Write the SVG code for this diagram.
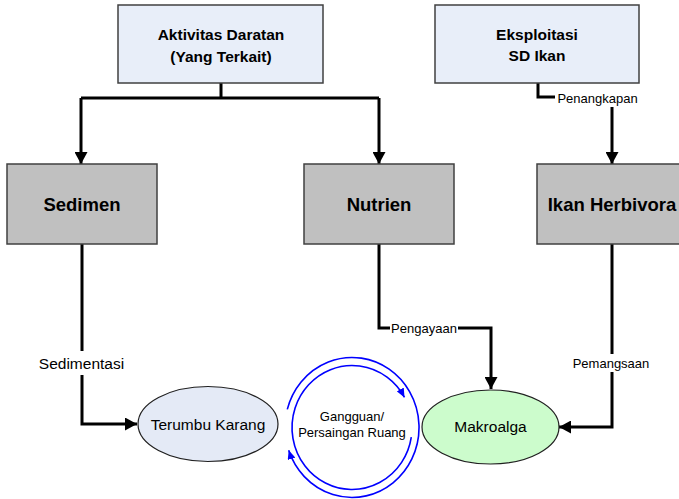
<svg xmlns="http://www.w3.org/2000/svg" width="679" height="499" viewBox="0 0 679 499">
<defs>
<style>
.top{fill:#e8eef9;stroke:#404040;stroke-width:1.5}
.mid{fill:#c0c0c0;stroke:#404040;stroke-width:1.5}
.t{font-family:"Liberation Sans",Arial,sans-serif;fill:#000;text-anchor:middle}
.b{font-weight:bold}
.con{fill:none;stroke:#000;stroke-width:3}
.lbl{fill:#fff;stroke:none}
.cyc{fill:none;stroke:#0000ff;stroke-width:1.6}
</style>
<marker id="ah" markerUnits="userSpaceOnUse" markerWidth="12" markerHeight="13" refX="12" refY="6.5" orient="auto">
<path d="M0,0 L12,6.5 L0,13 z" fill="#000"/>
</marker>
<marker id="bh" markerUnits="userSpaceOnUse" markerWidth="9" markerHeight="8" refX="9" refY="4" orient="auto">
<path d="M0,0 L9,4 L0,8 z" fill="#0000ff"/>
</marker>
</defs>

<g id="connectors">
<path class="con" d="M221,83 V98 M81,98 H379"/>
<path class="con" d="M81,98 V164" marker-end="url(#ah)"/>
<path class="con" d="M379,98 V164" marker-end="url(#ah)"/>
<path class="con" d="M538,83 V97 H612 V164" marker-end="url(#ah)"/>
<path class="con" d="M82,244 V424 H137" marker-end="url(#ah)"/>
<path class="con" d="M379,244 V328 H491 V389" marker-end="url(#ah)"/>
<path class="con" d="M612,244 V427 H559" marker-end="url(#ah)"/>
<rect class="lbl" x="555" y="90" width="85" height="17"/>
<text class="t" x="597.5" y="103" font-size="13">Penangkapan</text>
<rect class="lbl" x="37" y="351" width="89" height="24"/>
<text class="t" x="81.5" y="369" font-size="15.5">Sedimentasi</text>
<rect class="lbl" x="390" y="321" width="68" height="15"/>
<text class="t" x="424" y="333" font-size="13">Pengayaan</text>
<rect class="lbl" x="571" y="354" width="80" height="18"/>
<text class="t" x="611" y="368" font-size="13">Pemangsaan</text>
</g>

<g id="aktivitas">
<rect class="top" x="118" y="5" width="205" height="78"/>
<text class="t b" x="221" y="39.5" font-size="15.5">Aktivitas Daratan</text>
<text class="t b" x="221" y="61.5" font-size="15.5">(Yang Terkait)</text>
</g>

<g id="eksploitasi">
<rect class="top" x="435" y="5" width="204" height="78"/>
<text class="t b" x="537" y="39.5" font-size="15.5">Eksploitasi</text>
<text class="t b" x="537" y="60.5" font-size="15.5">SD Ikan</text>
</g>

<g id="sedimen">
<rect class="mid" x="7" y="164" width="150" height="80"/>
<text class="t b" x="82" y="211" font-size="18.5">Sedimen</text>
</g>

<g id="nutrien">
<rect class="mid" x="304" y="164" width="150" height="80"/>
<text class="t b" x="379" y="211" font-size="18.5">Nutrien</text>
</g>

<g id="ikan-herbivora">
<rect class="mid" x="537" y="164" width="150" height="80"/>
<text class="t b" x="612" y="211" font-size="18.5">Ikan Herbivora</text>
</g>

<g id="terumbu-karang">
<ellipse cx="208" cy="424" rx="70" ry="37.5" fill="#e4eaf6" stroke="#202020" stroke-width="1.2"/>
<text class="t" x="208" y="429.5" font-size="15.5">Terumbu Karang</text>
</g>

<g id="makroalga">
<ellipse cx="490.5" cy="427" rx="68.5" ry="37" fill="#ccfccc" stroke="#202020" stroke-width="1.2"/>
<text class="t" x="490.5" y="432" font-size="15.5">Makroalga</text>
</g>

<g id="gangguan">
<path class="cyc" d="M411.3,437.2 A60,62 0 1 1 404.5,397.4" marker-end="url(#bh)"/>
<path class="cyc" d="M287.3,409.4 A67,70 0 1 1 288.7,450.3" marker-end="url(#bh)"/>
<text class="t" x="352" y="420.5" font-size="13">Gangguan/</text>
<text class="t" x="352" y="437" font-size="13">Persaingan Ruang</text>
</g>
</svg>
